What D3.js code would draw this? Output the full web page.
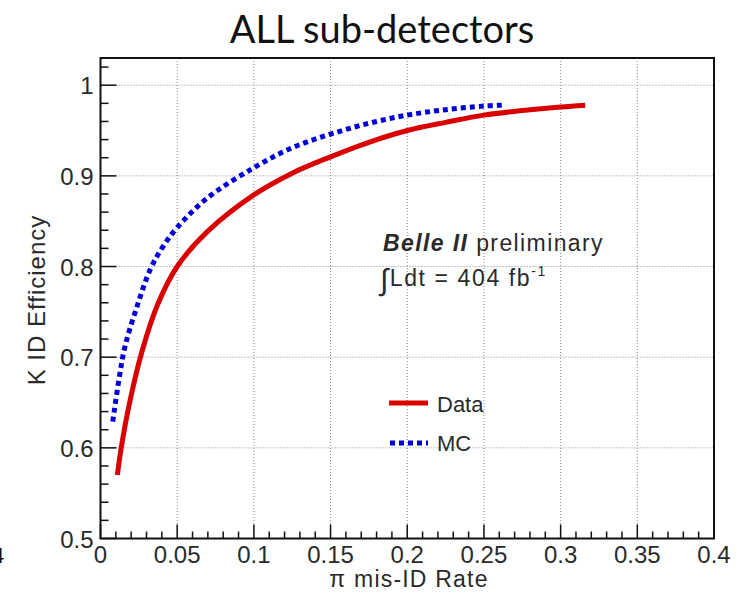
<!DOCTYPE html>
<html>
<head>
<meta charset="utf-8">
<script src="https://cdn.jsdelivr.net/npm/d3@7"></script>
<style>
  body { margin: 0; background: #fff; }
  text { font-family: "Liberation Sans", Arial, sans-serif; fill: #2a2a2a; }
</style>
</head>
<body>
<svg id="chart" width="746" height="593"></svg>
<script>
// curves: pi mis-ID rate vs K ID efficiency
var dataRate = [0.011, 0.0135, 0.019, 0.027, 0.037, 0.05, 0.07, 0.1, 0.125, 0.15, 0.175, 0.2, 0.225, 0.25, 0.275, 0.3, 0.316];
var dataEff  = [0.57, 0.60, 0.65, 0.706, 0.757, 0.80, 0.839, 0.879, 0.903, 0.921, 0.937, 0.950, 0.959, 0.967, 0.972, 0.976, 0.978];

var mcRate = [0.008, 0.012, 0.016, 0.024, 0.0325, 0.04, 0.05, 0.07, 0.1, 0.125, 0.15, 0.175, 0.2, 0.225, 0.25, 0.262];
var mcEff  = [0.629, 0.675, 0.712, 0.757, 0.797, 0.82, 0.843, 0.876, 0.909, 0.931, 0.946, 0.958, 0.967, 0.973, 0.977, 0.978];

var xTicks = [0, 0.05, 0.1, 0.15, 0.2, 0.25, 0.3, 0.35, 0.4];
var xTickLabels = ["0", "0.05", "0.1", "0.15", "0.2", "0.25", "0.3", "0.35", "0.4"];
var yTicks = [0.5, 0.6, 0.7, 0.8, 0.9, 1];
var yTickLabels = ["0.5", "0.6", "0.7", "0.8", "0.9", "1"];

var svg = d3.select('#chart');
var pLeft = 100.5, pRight = 714, pTop = 58, pBottom = 538.5;

var x = d3.scaleLinear().domain([0, 0.4]).range([pLeft, pRight]);
var y = d3.scaleLinear().domain([0.5, 1.03]).range([pBottom, pTop]);

var g = svg.append('g');

// grid
g.selectAll('.gx').data(xTicks.slice(1, -1)).enter().append('line')
	.attr('x1', d => x(d)).attr('x2', d => x(d))
	.attr('y1', pTop).attr('y2', pBottom)
	.attr('stroke', '#888').attr('stroke-width', 1)
	.style('stroke-dasharray', '1,2');

g.selectAll('.gy').data(yTicks.slice(1)).enter().append('line')
	.attr('x1', pLeft).attr('x2', pRight)
	.attr('y1', d => y(d)).attr('y2', d => y(d))
	.attr('stroke', '#888').attr('stroke-width', 1)
	.style('stroke-dasharray', '1,2');

// minor + major ticks
var xMinor = d3.range(0, 41).map(i => i / 100);
g.selectAll('.tx').data(xMinor).enter().append('line')
	.attr('x1', d => x(d)).attr('x2', d => x(d))
	.attr('y1', pBottom)
	.attr('y2', (d, i) => pBottom - (i % 5 === 0 ? 14 : 7))
	.attr('stroke', '#111').attr('stroke-width', 1.5);

var yMinor = d3.range(25, 52).map(i => i / 50);
g.selectAll('.ty').data(yMinor).enter().append('line')
	.attr('y1', d => y(d)).attr('y2', d => y(d))
	.attr('x1', pLeft)
	.attr('x2', (d, i) => pLeft + (i % 5 === 0 ? 16 : 8))
	.attr('stroke', '#111').attr('stroke-width', 1.5);

// curves
var line = d3.line().x(d => x(d[0])).y(d => y(d[1])).curve(d3.curveCatmullRom.alpha(0.5));

g.append('path')
	.datum(mcRate.map((r, i) => [r, mcEff[i]]))
	.attr('d', line)
	.attr('fill', 'none')
	.attr('stroke', '#0000d8')
	.attr('stroke-width', 5)
	.style('stroke-dasharray', '5,4');

g.append('path')
	.datum(dataRate.map((r, i) => [r, dataEff[i]]))
	.attr('d', line)
	.attr('fill', 'none')
	.attr('stroke', '#d80000')
	.attr('stroke-width', 5);

// frame
g.append('rect')
	.attr('x', pLeft).attr('y', pTop)
	.attr('width', pRight - pLeft).attr('height', pBottom - pTop)
	.attr('fill', 'none')
	.attr('stroke', '#111')
	.attr('stroke-width', 2);

// tick labels
g.selectAll('.lx').data(xTicks).enter().append('text')
	.attr('x', d => x(d))
	.attr('y', 563)
	.attr('text-anchor', 'middle')
	.style('font-size', '24px')
	.text((d, i) => xTickLabels[i]);

g.selectAll('.ly').data(yTicks).enter().append('text')
	.attr('x', pLeft - 7)
	.attr('y', d => y(d) + 9)
	.attr('text-anchor', 'end')
	.style('font-size', '24px')
	.text((d, i) => yTickLabels[i]);

// axis titles
g.append('text')
	.attr('x', 409).attr('y', 587)
	.attr('text-anchor', 'middle')
	.style('font-size', '23px')
	.style('letter-spacing', '1.2px')
	.text('\u03c0 mis-ID Rate');

g.append('text')
	.attr('transform', 'translate(45,300) rotate(-90)')
	.attr('text-anchor', 'middle')
	.style('font-size', '24px')
	.style('letter-spacing', '1px')
	.text('K ID Efficiency');

// title
g.append('text')
	.attr('x', 382).attr('y', 43)
	.attr('text-anchor', 'middle')
	.style('font-family', 'Lato, sans-serif')
	.style('font-size', '38px')
	.style('fill', '#111')
	.text('ALL sub-detectors');

// Belle II label
var lab = g.append('text').attr('x', 383).attr('y', 251)
	.style('font-size', '23px').style('letter-spacing', '1.4px');
lab.append('tspan').style('font-weight', 'bold').style('font-style', 'italic').text('Belle II');
lab.append('tspan').text(' preliminary');

var lum = g.append('text').attr('x', 380).attr('y', 286)
	.style('font-size', '23px').style('letter-spacing', '1.6px');
lum.append('tspan').style('font-size', '30px').attr('dy', 4).text('\u222b');
lum.append('tspan').attr('dy', -4).text('Ldt = 404 fb');
lum.append('tspan').attr('dy', -10).style('font-size', '14px').text('-1');

// legend
g.append('line')
	.attr('x1', 389).attr('x2', 428).attr('y1', 403).attr('y2', 403)
	.attr('stroke', '#d80000').attr('stroke-width', 5);
g.append('text').attr('x', 437).attr('y', 412).style('font-size', '22px').text('Data');

g.append('line')
	.attr('x1', 390).attr('x2', 428).attr('y1', 443).attr('y2', 443)
	.attr('stroke', '#0000d8').attr('stroke-width', 5)
	.style('stroke-dasharray', '5,4');
g.append('text').attr('x', 437).attr('y', 451).style('font-size', '22px').text('MC');

// clipped leftover glyph at the page edge
g.append('text').attr('x', -8).attr('y', 563).style('font-size', '22px').style('fill', '#111').text('4');
</script>
</body>
</html>
